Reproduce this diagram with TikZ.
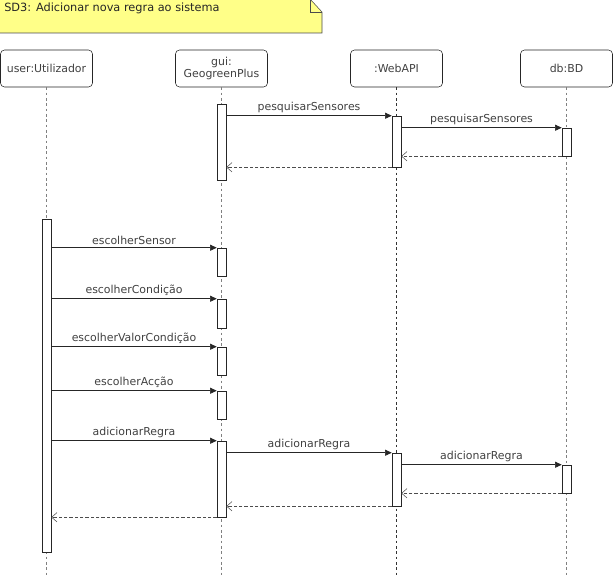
\documentclass[tikz,border=0pt]{standalone}
\usepackage{fontspec}
\setmainfont{DejaVu Sans}
\usetikzlibrary{arrows.meta, fit}
\definecolor{notefill}{HTML}{FFFF88}

\begin{document}
\begin{tikzpicture}[x=0.75pt, y=-0.75pt,
  every node/.style={font=\fontsize{8.2}{9.5}\selectfont, text=black!75},
  head/.style={rectangle, rounded corners=3pt, draw=black!85, minimum width=69pt, minimum height=27.75pt, align=center, inner sep=1pt},
  act/.style={rectangle, draw=black!85, fill=white, inner sep=0pt},
  life/.style={gray, dash pattern=on 2pt off 2pt, thin},
  msg/.style={-{Triangle[length=5pt, width=4.5pt]}, black!85},
  ret/.style={-{Straight Barb[length=4pt, width=7pt]}, black!70, dash pattern=on 2.5pt off 1.5pt},
  lbl/.style={above, inner sep=2pt}
]
\useasboundingbox (0,0) rectangle (615,577);

\draw[black!70, fill=notefill] (-1,-1) -- (310,-1) -- (322,12) -- (322,33) -- (-1,33) -- cycle;
\draw[black!70] (310,-1) -- (310,12) -- (322,12);
\node[anchor=north west, inner sep=0pt, text=black!85, font=\fontsize{8.5}{10}\selectfont] (title) at (4,3) {SD3: Adicionar nova regra ao sistema};

\node[head] (user) at (46.5,68.5) {user:Utilizador};
\node[head] (gui) at (221.5,68.5) {gui:\\GeogreenPlus};
\node[head] (api) at (396.5,68.5) {:WebAPI};
\node[head] (db) at (566.5,68.5) {db:BD};

\coordinate (end) at (0,577);
\foreach \n in {user,gui,db}
  \draw[life] (\n.south) -- (\n.south |- end);
\draw[life, black!80] (api.south) -- (api.south |- end);

\node[act, fit={(217,104) (226,180)}] (g1) {};
\node[act, fit={(392,116) (401,167)}] (a1) {};
\node[act, fit={(562,128) (571,156)}] (d1) {};
\node[act, fit={(42,219) (51,552)}] (u1) {};
\node[act, fit={(217,248) (226,276)}] (g2) {};
\node[act, fit={(217,299) (226,328)}] (g3) {};
\node[act, fit={(217,347) (226,375)}] (g4) {};
\node[act, fit={(217,391) (226,419)}] (g5) {};
\node[act, fit={(217,441) (226,517)}] (g6) {};
\node[act, fit={(392,453) (401,506)}] (a2) {};
\node[act, fit={(562,465) (571,493)}] (d2) {};

\draw[msg] (g1.east |- a1.north) -- (a1.north west) node[lbl, midway] {pesquisarSensores};
\draw[msg] (a1.east |- d1.north) -- (d1.north west) node[lbl, midway] {pesquisarSensores};
\draw[ret] (d1.south west) -- (a1.east |- d1.south);
\draw[ret] (a1.south west) -- (g1.east |- a1.south);

\foreach \g/\txt in {g2/escolherSensor, g3/escolherCondição, g4/escolherValorCondição, g5/escolherAcção, g6/adicionarRegra}
  \draw[msg] (u1.east |- \g.north) -- (\g.north west) node[lbl, midway] {\txt};

\draw[msg] (g6.east |- a2.north) -- (a2.north west) node[lbl, midway] {adicionarRegra};
\draw[msg] (a2.east |- d2.north) -- (d2.north west) node[lbl, midway] {adicionarRegra};
\draw[ret] (d2.south west) -- (a2.east |- d2.south);
\draw[ret] (a2.south west) -- (g6.east |- a2.south);
\draw[ret] (g6.south west) -- (u1.east |- g6.south);

\end{tikzpicture}
\end{document}
